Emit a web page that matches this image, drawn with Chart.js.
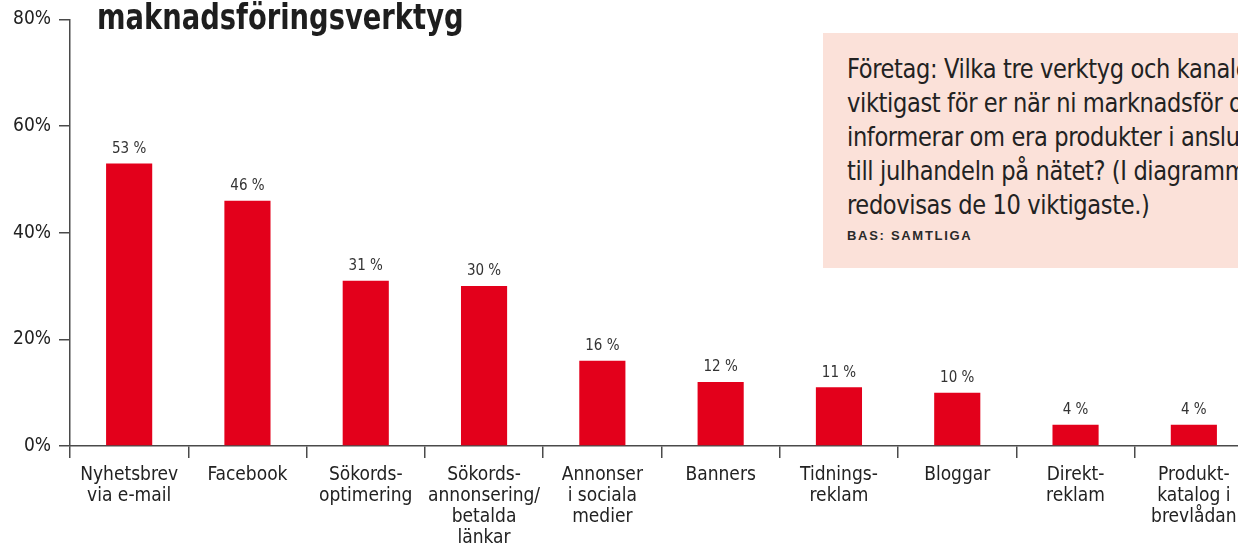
<!DOCTYPE html>
<html lang="sv">
<head>
<meta charset="utf-8">
<script src="https://cdn.jsdelivr.net/npm/chart.js@4/dist/chart.umd.min.js"></script>
<style>
  html, body { margin: 0; padding: 0; background: #fff; overflow: hidden; }
  #wrap { position: relative; width: 1253px; height: 549px; }
  #title {
    position: absolute; left: 97px; top: -4px;
    font: bold 36px "Liberation Sans Narrow", "DejaVu Sans Condensed", sans-serif;
    color: #1e1e1e; white-space: nowrap;
    transform: scaleX(0.845); transform-origin: left top;
  }
  #question {
    position: absolute; left: 823px; top: 33px; width: 440px; height: 235px;
    background: #fbe1d9; box-sizing: border-box; padding: 19px 0 0 24px;
    color: #222; white-space: nowrap;
  }
  #question .q {
    font: 27px/34px "Liberation Sans Narrow", "DejaVu Sans Condensed", sans-serif;
    letter-spacing: -0.4px;
    transform: scaleX(0.93); transform-origin: left top;
  }
  #question .bas {
    margin-top: 6px;
    font: bold 13px "Liberation Sans", "DejaVu Sans", sans-serif;
    letter-spacing: 1.7px; color: #2a2a2a;
  }
</style>
</head>
<body>
<div id="wrap">
  <canvas id="chart"></canvas>
  <div id="title">maknadsföringsverktyg</div>
  <div id="question">
    <div class="q">Företag: Vilka tre verktyg och kanaler är<br>viktigast för er när ni marknadsför och<br>informerar om era produkter i anslutning<br>till julhandeln på nätet? (I diagrammet<br>redovisas de 10 viktigaste.)</div>
    <div class="bas">BAS: SAMTLIGA</div>
  </div>
</div>
<script>
const categories = [
  ['Nyhetsbrev', 'via e-mail'],
  ['Facebook'],
  ['Sökords-', 'optimering'],
  ['Sökords-', 'annonsering/', 'betalda', 'länkar'],
  ['Annonser', 'i sociala', 'medier'],
  ['Banners'],
  ['Tidnings-', 'reklam'],
  ['Bloggar'],
  ['Direkt-', 'reklam'],
  ['Produkt-', 'katalog i', 'brevlådan']
]
const shares = [53, 46, 31, 30, 16, 12, 11, 10, 4, 4]
const yTicks = [0, 20, 40, 60, 80]

const narrow = '"Liberation Sans Narrow", "DejaVu Sans Condensed", sans-serif'
const axisColor = '#4a4a4a'

// prints "53 %" etc. above each bar
const valueLabels = {
  id: 'valueLabels',
  afterDatasetsDraw(chart) {
    const ctx = chart.ctx
    const meta = chart.getDatasetMeta(0)
    ctx.save()
    ctx.font = '15px ' + narrow
    ctx.fillStyle = '#333'
    ctx.textAlign = 'center'
    ctx.textBaseline = 'bottom'
    meta.data.forEach((bar, i) => {
      ctx.fillText(chart.data.datasets[0].data[i] + ' %', bar.x, bar.y - 7)
    })
    ctx.restore()
  }
}

new Chart(document.getElementById('chart'), {
  type: 'bar',
  data: {
    labels: categories,
    datasets: [{
      data: shares,
      backgroundColor: '#e3001b',
      categoryPercentage: 1,
      barPercentage: 0.39
    }]
  },
  plugins: [valueLabels],
  options: {
    responsive: true,
    maintainAspectRatio: false,
    animation: false,
    layout: { padding: { top: 19, right: 0, left: 0, bottom: 0 } },
    plugins: {
      legend: { display: false },
      tooltip: { enabled: false }
    },
    scales: {
      x: {
        afterFit(scale) { scale.height = 103 },
        border: { color: axisColor, width: 1.5 },
        grid: {
          offset: true,
          drawOnChartArea: false,
          drawTicks: true,
          tickLength: 12,
          color: axisColor,
          lineWidth: 1.5
        },
        ticks: {
          color: '#222',
          padding: 7,
          maxRotation: 0,
          autoSkip: false,
          font: { family: narrow, size: 19, lineHeight: 1.1 }
        }
      },
      y: {
        min: 0,
        max: 80,
        afterFit(scale) { scale.width = 70 },
        afterBuildTicks(scale) { scale.ticks = yTicks.map(v => ({ value: v })) },
        border: { color: axisColor, width: 1.5 },
        grid: {
          drawOnChartArea: false,
          drawTicks: true,
          tickLength: 11,
          color: axisColor,
          lineWidth: 1.5
        },
        ticks: {
          color: '#222',
          padding: 8,
          font: { family: narrow, size: 19 },
          callback: v => v + '%'
        }
      }
    }
  }
})
</script>
</body>
</html>
